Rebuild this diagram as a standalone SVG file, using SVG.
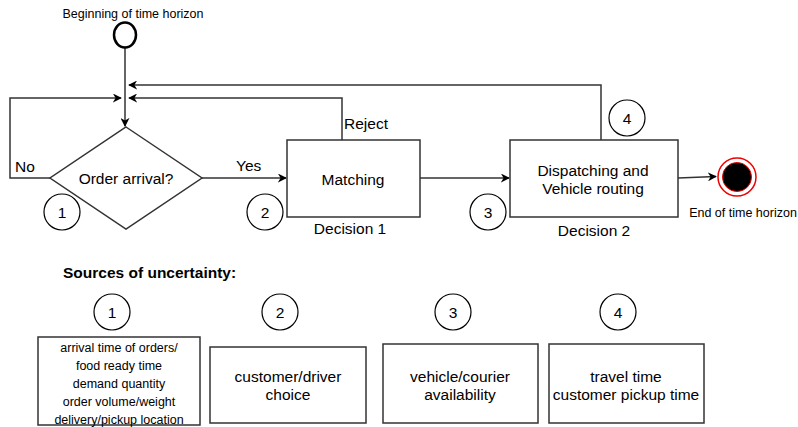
<svg xmlns="http://www.w3.org/2000/svg" width="798" height="427" viewBox="0 0 798 427">
<style>
text{font-family:"Liberation Sans",Arial,sans-serif;fill:#000}
.lbl{font-size:15.5px}
.sm{font-size:12.5px}
.c{text-anchor:middle}
.box{fill:#fff;stroke:#333;stroke-width:1.5}
.num{fill:#fff;stroke:#000;stroke-width:1.2}
.edge{fill:none;stroke:#333;stroke-width:1.5}
</style>
<defs>
<marker id="ah" viewBox="0 0 10 10" refX="9" refY="5" markerWidth="9" markerHeight="9" markerUnits="userSpaceOnUse" orient="auto">
<path d="M0,0 L10,5 L0,10 L3,5 Z" fill="#000"/>
</marker>
</defs>
<rect width="798" height="427" fill="#fff"/>
<g id="connectors">
<path class="edge" d="M125,48 L125,126" marker-end="url(#ah)"/>
<path class="edge" d="M50,178 L10,178 L10,98 L121,98" marker-end="url(#ah)"/>
<path class="edge" d="M342,140 L342,98 L129,98" marker-end="url(#ah)"/>
<path class="edge" d="M601,140 L601,85 L129,85" marker-end="url(#ah)"/>
<path class="edge" d="M202,178 L286,178" marker-end="url(#ah)"/>
<path class="edge" d="M420,178 L509,178" marker-end="url(#ah)"/>
<path class="edge" d="M678,178 L716,176.5" marker-end="url(#ah)"/>
<text class="lbl" x="15" y="172">No</text>
<text class="lbl" x="236" y="171">Yes</text>
<text class="lbl" x="344" y="129">Reject</text>
</g>
<g id="start">
<ellipse cx="125" cy="35" rx="11" ry="12.5" fill="#fff" stroke="#000" stroke-width="2.5"/>
<text class="sm c" x="133" y="18">Beginning of time horizon</text>
</g>
<g id="order-arrival">
<polygon class="box" points="126,127 202,178 126,229 50,178"/>
<text class="lbl c" x="126" y="184">Order arrival?</text>
</g>
<g id="matching">
<rect class="box" x="287" y="140" width="133" height="77"/>
<text class="lbl c" x="353" y="185">Matching</text>
<text class="lbl c" x="350" y="234">Decision 1</text>
</g>
<g id="dispatching">
<rect class="box" x="510" y="140" width="168" height="77"/>
<text class="lbl c" x="593" y="176">Dispatching and</text>
<text class="lbl c" x="593" y="194">Vehicle routing</text>
<text class="lbl c" x="594" y="236">Decision 2</text>
</g>
<g id="end">
<circle cx="737" cy="177" r="19" fill="#fff" stroke="#e00" stroke-width="1.5"/>
<circle cx="737" cy="177" r="14.5" fill="#000" stroke="#e00" stroke-width="1"/>
<text class="sm c" x="743" y="217">End of time horizon</text>
</g>
<g id="markers-top">
<circle class="num" cx="62" cy="212" r="18"/><text class="lbl c" x="62" y="218">1</text>
<circle class="num" cx="265" cy="212" r="18"/><text class="lbl c" x="265" y="218">2</text>
<circle class="num" cx="488" cy="212" r="18"/><text class="lbl c" x="488" y="218">3</text>
<circle class="num" cx="627" cy="118" r="18"/><text class="lbl c" x="627" y="124">4</text>
</g>
<g id="sources-title">
<text x="63" y="278" style="font-size:15.5px;font-weight:bold">Sources of uncertainty:</text>
</g>
<g id="source-1">
<circle class="num" cx="112" cy="312" r="18"/><text class="lbl c" x="112" y="318">1</text>
<rect class="box" x="38" y="337" width="162" height="88"/>
<text class="sm c" x="119" y="352">arrival time of orders/</text>
<text class="sm c" x="119" y="370">food ready time</text>
<text class="sm c" x="119" y="388">demand quantity</text>
<text class="sm c" x="119" y="406">order volume/weight</text>
<text class="sm c" x="119" y="424">delivery/pickup location</text>
</g>
<g id="source-2">
<circle class="num" cx="280" cy="312" r="18"/><text class="lbl c" x="280" y="318">2</text>
<rect class="box" x="210" y="347" width="156" height="76"/>
<text class="lbl c" x="288" y="382">customer/driver</text>
<text class="lbl c" x="288" y="400">choice</text>
</g>
<g id="source-3">
<circle class="num" cx="453" cy="312" r="18"/><text class="lbl c" x="453" y="318">3</text>
<rect class="box" x="383" y="344" width="155" height="79"/>
<text class="lbl c" x="460" y="382">vehicle/courier</text>
<text class="lbl c" x="460" y="400">availability</text>
</g>
<g id="source-4">
<circle class="num" cx="618" cy="312" r="18"/><text class="lbl c" x="618" y="318">4</text>
<rect class="box" x="549" y="344" width="155" height="79"/>
<text class="lbl c" x="626" y="382">travel time</text>
<text class="lbl c" x="626" y="400">customer pickup time</text>
</g>
</svg>
